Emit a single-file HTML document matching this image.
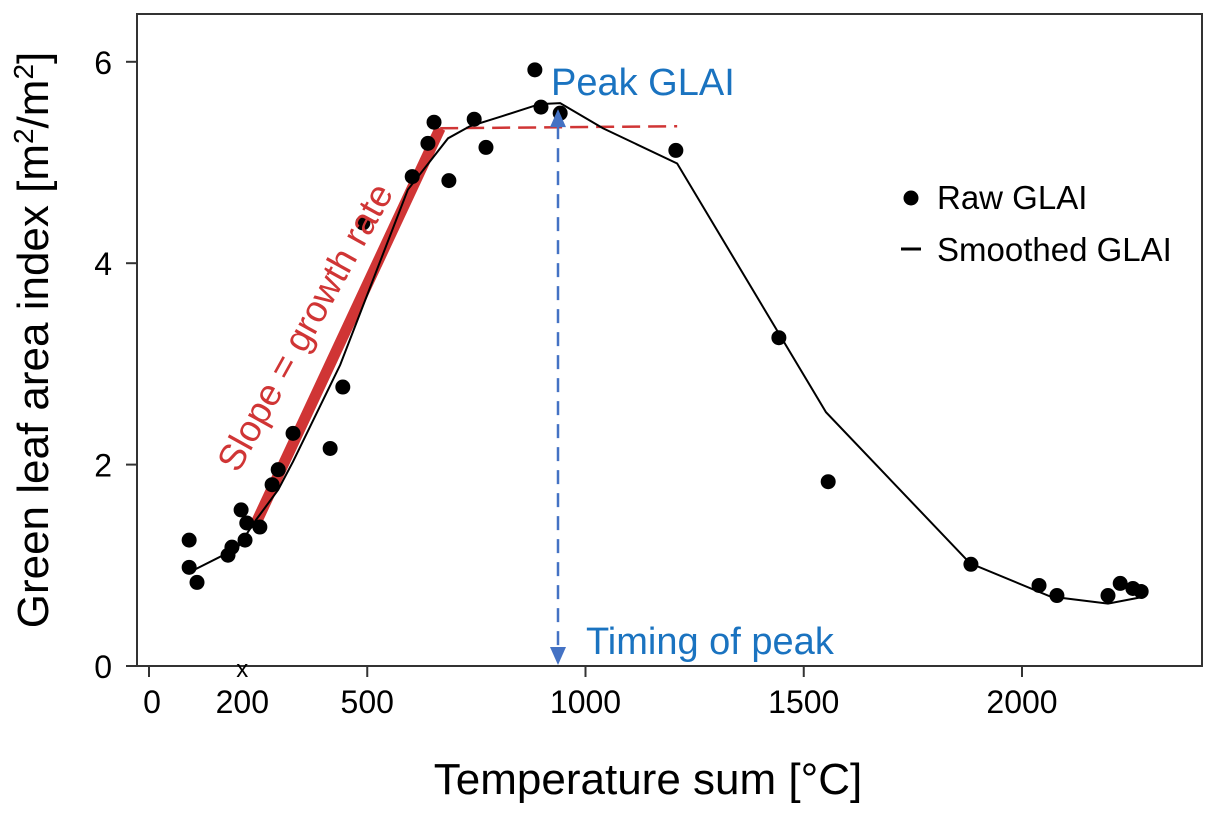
<!DOCTYPE html>
<html><head><meta charset="utf-8"><style>
body{margin:0;background:#fff}
svg text{font-family:"Liberation Sans",Arial,sans-serif}
</style></head><body>
<svg id="chart" width="1218" height="814" viewBox="0 0 1218 814">
<rect x="137" y="14" width="1065" height="652" fill="none" stroke="#333" stroke-width="2"/>
<g id="axes"></g>
<g id="marks"></g>
<text x="648" y="794" font-size="44" text-anchor="middle">Temperature sum [°C]</text>
<text transform="translate(48,340) rotate(-90)" font-size="44" text-anchor="middle">Green leaf area index [m<tspan baseline-shift="super" font-size="28">2</tspan>/m<tspan baseline-shift="super" font-size="28">2</tspan>]</text>
<text x="551" y="95" font-size="38" fill="#1a73c0">Peak GLAI</text>
<text x="586" y="654" font-size="38" fill="#1a73c0">Timing of peak</text>
<text transform="translate(238,474) rotate(-61)" font-size="37" fill="#d03535">Slope = growth rate</text>
<circle cx="911" cy="198" r="7.5" fill="#000"/>
<text x="937" y="209" font-size="33">Raw GLAI</text>
<line x1="901" y1="249" x2="921" y2="249" stroke="#000" stroke-width="3"/>
<text x="937" y="261" font-size="33">Smoothed GLAI</text>
</svg>
<script>
const rawX=[92,92,110,181,190,211,220,224,254,282,296,330,415,444,490,603,639,653,687,745,772,884,898,942,1207,1443,1556,1883,2039,2080,2197,2225,2254,2273];
const rawY=[1.25,0.98,0.83,1.10,1.18,1.55,1.25,1.42,1.38,1.80,1.95,2.31,2.16,2.77,4.40,4.86,5.19,5.40,4.82,5.43,5.15,5.92,5.55,5.49,5.12,3.26,1.83,1.01,0.80,0.70,0.70,0.82,0.77,0.74];
const smoothX=[92,202,245,296,330,438,593,685,735,809,895,942,1040,1210,1551,1881,2065,2197,2270];
const smoothY=[0.93,1.17,1.45,1.75,2.03,2.99,4.73,5.24,5.36,5.46,5.58,5.59,5.34,4.99,2.52,1.02,0.69,0.62,0.68];
const slopeX=[243,667];
const slopeY=[1.4,5.34];
const plateauX=[667,1210];
const plateauY=[5.34,5.36];
const peakX=937;
const xTicks=[0,200,500,1000,1500,2000];
const xTickLabels=["0","200","500","1000","1500","2000"];
const yTicks=[0,2,4,6];
const NS="http://www.w3.org/2000/svg";
const xs=v=>149+v*0.4365;
const ys=v=>666-v*100.7;
function mk(tag,attrs,parent){const e=document.createElementNS(NS,tag);for(const k in attrs)e.setAttribute(k,attrs[k]);parent.appendChild(e);return e;}
const ax=document.getElementById('axes'),mg=document.getElementById('marks');
xTicks.forEach((t,i)=>{
  if(t!==200){const l=mk('line',{x1:xs(t),x2:xs(t),y1:666,y2:677,stroke:'#333','stroke-width':2},ax);
  
  }
  const tx=mk('text',{x:xs(t)+(t===0?3:(t===200?6:0)),y:713,'font-size':32,'text-anchor':'middle'},ax);tx.textContent=xTickLabels[i];
  
  
});
const xm=mk('text',{x:xs(200)+6,y:677,'font-size':24,'text-anchor':'middle'},ax);xm.textContent='x';


yTicks.forEach(t=>{
  const l=mk('line',{x1:126,x2:137,y1:ys(t),y2:ys(t),stroke:'#333','stroke-width':2},ax);
  
  
  const tx=mk('text',{x:112,y:ys(t)+12,'font-size':32,'text-anchor':'end'},ax);tx.textContent=t;
  
  
});
const sl=mk('line',{x1:xs(slopeX[0]),y1:ys(slopeY[0]),x2:xs(slopeX[1]),y2:ys(slopeY[1]),stroke:'#d03535','stroke-width':11},mg);


const pl=mk('line',{x1:xs(plateauX[0]),y1:ys(plateauY[0]),x2:xs(plateauX[1]),y2:ys(plateauY[1]),stroke:'#d03535','stroke-width':2.5,'stroke-dasharray':'18,8'},mg);


const sm=mk('polyline',{points:smoothX.map((x,i)=>xs(x)+','+ys(smoothY[i])).join(' '),fill:'none',stroke:'#000','stroke-width':2},mg);


rawX.forEach((x,i)=>{const c=mk('circle',{cx:xs(x),cy:ys(rawY[i]),r:7.5,fill:'#000'},mg);
  
  });
const pv=Math.max(...smoothY);
const ar=mk('line',{x1:xs(peakX),y1:ys(pv)+22,x2:xs(peakX),y2:650,stroke:'#4472c4','stroke-width':2.5,'stroke-dasharray':'14,9'},mg);


const h1=mk('polygon',{points:`${xs(peakX)-8},${ys(pv)+24} ${xs(peakX)+8},${ys(pv)+24} ${xs(peakX)},${ys(pv)+6}`,fill:'#4472c4'},mg);


const h2=mk('polygon',{points:`${xs(peakX)-8},647 ${xs(peakX)+8},647 ${xs(peakX)},665`,fill:'#4472c4'},mg);


</script>
</body></html>
